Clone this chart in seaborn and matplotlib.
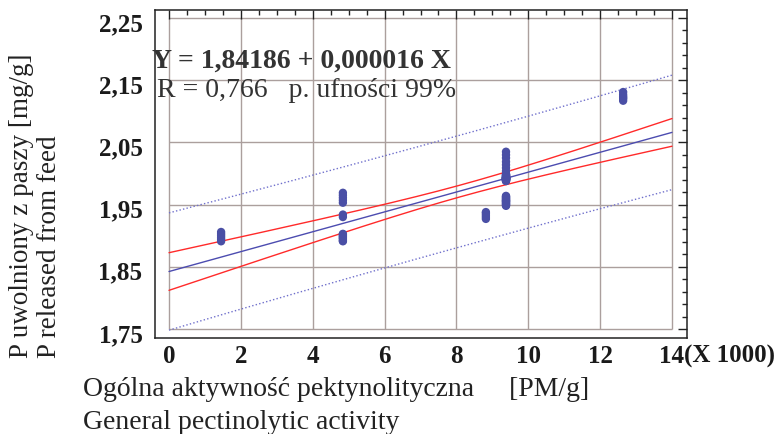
import numpy as np
import pandas as pd
import matplotlib
matplotlib.use("Agg")
import matplotlib.pyplot as plt
import matplotlib.transforms as mtransforms
from matplotlib.ticker import FixedLocator
import seaborn as sns

# ---------------- data (x in thousands PM/g, y in mg/g) ----------------
pm_levels = [1.45, 4.84, 8.82, 9.38, 12.64]
p_at_145 = [1.891, 1.894, 1.897, 1.900, 1.903, 1.906]
p_at_484 = [1.953, 1.957, 1.961, 1.965, 1.969,
            1.930, 1.934,
            1.891, 1.892, 1.894, 1.896, 1.897, 1.899, 1.900, 1.902, 1.903]
p_at_882 = [1.927, 1.930, 1.933, 1.936, 1.938]
p_at_938 = [1.988, 1.993, 1.998, 2.004, 2.009, 2.014, 2.019, 2.025, 2.030, 2.035,
            1.948, 1.949, 1.950, 1.951, 1.952, 1.953, 1.954, 1.955, 1.956,
            1.956, 1.957, 1.958, 1.959, 1.960, 1.961, 1.962, 1.963, 1.964,
            1.988, 1.989, 1.989, 1.990, 1.990, 1.990, 1.991, 1.991, 1.991, 1.991,
            1.992, 1.992, 1.992, 1.992, 1.992, 1.993, 1.993, 1.993, 1.993,
            1.994, 1.994, 1.994, 1.995, 1.995, 1.996, 1.996, 1.997, 1.998, 1.999]
p_at_1264 = [2.117, 2.120, 2.122, 2.124, 2.127, 2.131]
p_groups = [p_at_145, p_at_484, p_at_882, p_at_938, p_at_1264]

x_ticks = [0, 2, 4, 6, 8, 10, 12, 14]
x_tick_labels = ["0", "2", "4", "6", "8", "10", "12", "14"]
y_ticks = [1.75, 1.85, 1.95, 2.05, 2.15, 2.25]
y_tick_labels = ["1,75", "1,85", "1,95", "2,05", "2,15", "2,25"]
conf_level = 0.99

eq_text = "Y = 1,84186 + 0,000016 X"
r_text = "R = 0,766   p. ufności 99%"
ylabel_1 = "P uwolniony z paszy [mg/g]"
ylabel_2 = "P released from feed"
xlabel_1 = "Ogólna aktywność pektynolityczna     [PM/g]"
xlabel_2 = "General pectinolytic activity"
x_scale_text = "(X 1000)"

# ---------------- build table ----------------
df = pd.DataFrame({
    "x": np.concatenate([[lv] * len(g) for lv, g in zip(pm_levels, p_groups)]),
    "y": np.concatenate(p_groups),
})

# ---------------- regression statistics ----------------
x = df["x"].to_numpy()
y = df["y"].to_numpy()
n = len(x)
b1, b0 = np.polyfit(x, y, 1)
resid = y - (b0 + b1 * x)
dof = n - 2
s = np.sqrt(np.sum(resid ** 2) / dof)
xbar = x.mean()
sxx = np.sum((x - xbar) ** 2)


def t_ppf(p, nu):
    try:
        from scipy import stats
        return stats.t.ppf(p, nu)
    except Exception:
        from statistics import NormalDist
        z = NormalDist().inv_cdf(p)
        g1 = (z ** 3 + z) / 4
        g2 = (5 * z ** 5 + 16 * z ** 3 + 3 * z) / 96
        g3 = (3 * z ** 7 + 19 * z ** 5 + 17 * z ** 3 - 15 * z) / 384
        return z + g1 / nu + g2 / nu ** 2 + g3 / nu ** 3


tq = t_ppf(1 - (1 - conf_level) / 2, dof)
xs = np.linspace(x_ticks[0], x_ticks[-1], 300)
yhat = b0 + b1 * xs
h_mean = tq * s * np.sqrt(1 / n + (xs - xbar) ** 2 / sxx)
h_pred = tq * s * np.sqrt(1 + 1 / n + (xs - xbar) ** 2 / sxx)

# ---------------- figure ----------------
sns.set_style("white")
plt.rcParams["font.family"] = ["Liberation Serif", "DejaVu Serif"]

W, H = 783, 434
fig = plt.figure(figsize=(W / 100, H / 100), dpi=100)
ax = fig.add_axes([155 / W, 1 - 338 / H, (687 - 155) / W, (338 - 10) / H])

x0, x1 = x_ticks[0], x_ticks[-1]
y0, y1 = y_ticks[0], y_ticks[-1]
ax.set_xlim(x0 - 14 / 35.93, x1 + 15 / 35.93)
ax.set_ylim(y0 - 9 / 622, y1 + 8 / 622)

grid_c = "#ab9f9d"
ax.vlines(x_ticks, y0, y1, colors=grid_c, linewidth=1.0, zorder=0)
ax.hlines(y_ticks, x0, x1, colors=grid_c, linewidth=1.0, zorder=0)

ax.plot(xs, yhat + h_pred, color="#7070cc", linewidth=1.0, linestyle=(0, (1, 1.6)), zorder=2)
ax.plot(xs, yhat - h_pred, color="#7070cc", linewidth=1.0, linestyle=(0, (1, 1.6)), zorder=2)
ax.plot(xs, yhat + h_mean, color="#ff2a2a", linewidth=1.0, zorder=2)
ax.plot(xs, yhat - h_mean, color="#ff2a2a", linewidth=1.0, zorder=2)
ax.plot(xs, yhat, color="#4c4cb0", linewidth=1.0, zorder=2)

sns.scatterplot(data=df, x="x", y="y", s=36, color="#4a4fa5", edgecolor="none",
                linewidth=0, ax=ax, zorder=3, legend=False)

ax.set_xlabel("")
ax.set_ylabel("")
ax.set_xticks(x_ticks)
ax.set_xticklabels(x_tick_labels)
ax.set_yticks(y_ticks)
ax.set_yticklabels(y_tick_labels)
ax.xaxis.set_minor_locator(FixedLocator(np.arange(x0, x1 + 0.001, 0.5)))
ax.yaxis.set_minor_locator(FixedLocator(np.arange(y0, y1 + 0.0001, 0.02)))
ax.tick_params(axis="both", which="both", direction="in", top=True, right=True,
               color="#222222", width=1.0)
ax.tick_params(axis="both", which="major", length=6.5)
ax.tick_params(axis="both", which="minor", length=3.6)
ax.tick_params(axis="x", which="major", pad=5, labelsize=18, labelcolor="#1a1a1a")
ax.tick_params(axis="y", which="major", pad=9, labelsize=18, labelcolor="#1a1a1a")
for lab in ax.get_xticklabels() + ax.get_yticklabels():
    lab.set_fontweight("bold")
off = mtransforms.ScaledTranslation(0, -4 / 100, fig.dpi_scale_trans)
for lab in ax.get_yticklabels():
    lab.set_transform(lab.get_transform() + off)
for sp in ax.spines.values():
    sp.set_color("#222222")
    sp.set_linewidth(1.1)


def px(xp, yp):
    return xp / W, 1 - yp / H


fig.text(*px(684, 356), x_scale_text, fontsize=18, fontweight="bold",
         color="#1a1a1a", ha="left", va="center")
fig.text(*px(152, 68), eq_text, fontsize=20, fontweight="bold", color="#333333",
         ha="left", va="baseline")
fig.text(*px(157, 97), r_text, fontsize=20, color="#333333", ha="left", va="baseline")
fig.text(*px(22, 358), ylabel_1, fontsize=19.5, color="#222222", rotation=90,
         ha="center", va="bottom")
fig.text(*px(50, 358), ylabel_2, fontsize=19.5, color="#222222", rotation=90,
         ha="center", va="bottom")
fig.text(*px(83, 396), xlabel_1, fontsize=20, color="#222222", ha="left", va="baseline")
fig.text(*px(83, 429), xlabel_2, fontsize=20, color="#222222", ha="left", va="baseline")

fig.savefig("out.png", dpi=100)
